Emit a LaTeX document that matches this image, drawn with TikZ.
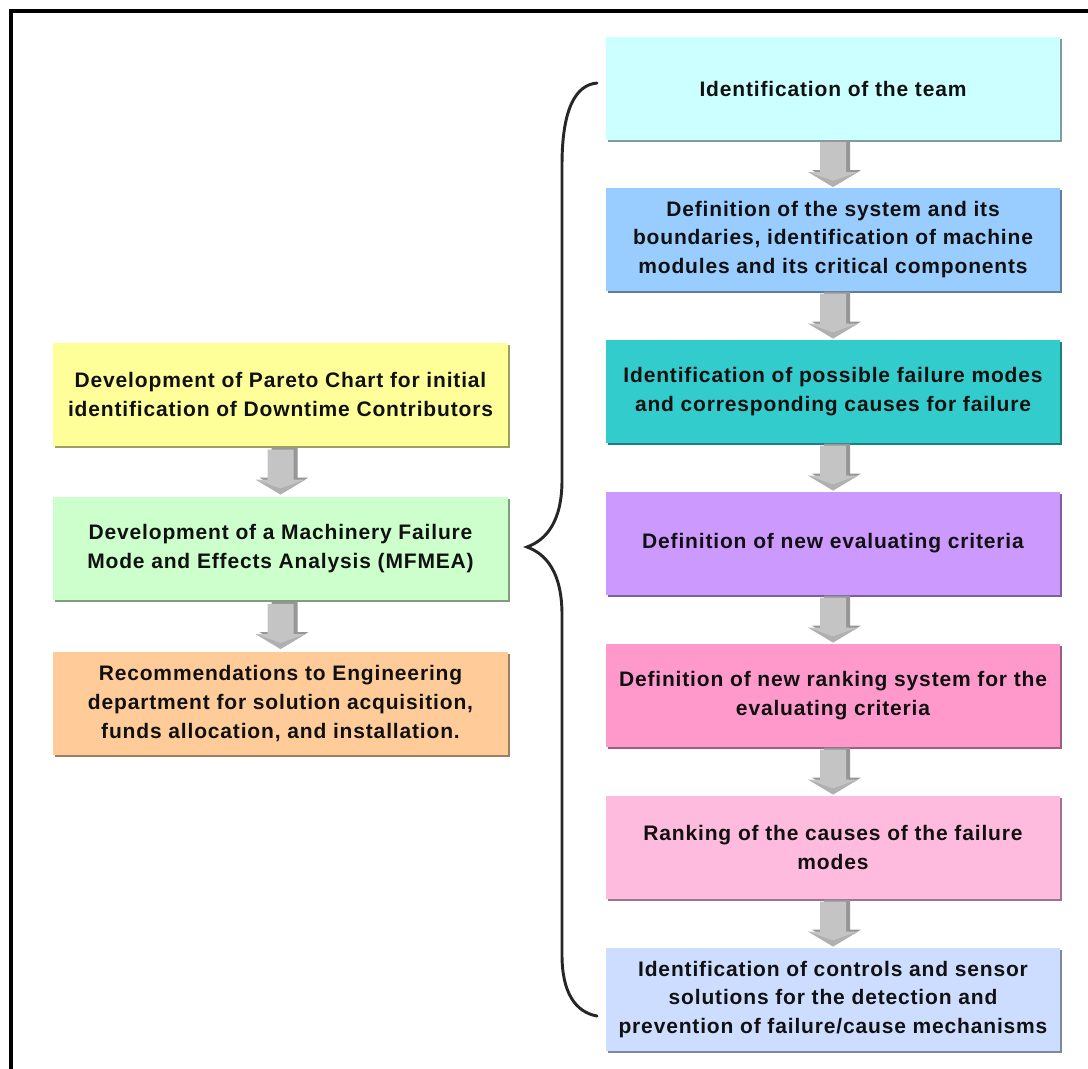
\documentclass[tikz,border=0pt]{standalone}
\usepackage{fontspec}
\setmainfont{Liberation Sans}[LetterSpace=4]
\usetikzlibrary{shadows,calc}

\definecolor{cYellow}{HTML}{FFFF99}
\definecolor{cGreen}{HTML}{CCFFCC}
\definecolor{cOrange}{HTML}{FFCC99}
\definecolor{cCyan}{HTML}{CCFFFF}
\definecolor{cBlue}{HTML}{99CCFF}
\definecolor{cTeal}{HTML}{33CCCC}
\definecolor{cPurple}{HTML}{CC99FF}
\definecolor{cPink}{HTML}{FF99CC}
\definecolor{cRose}{HTML}{FFBBDD}
\definecolor{cLavender}{HTML}{CCDDFF}
\definecolor{arrowFront}{HTML}{C4C4C4}
\definecolor{arrowSide}{HTML}{969696}
\definecolor{inkText}{HTML}{111111}

% one drawing unit = 0.75pt
\tikzset{
  stagebox/.style={
    fill=#1, draw=none, minimum height=77.25pt, inner sep=0pt,
    align=center, text=inkText,
    font=\fontsize{15.75}{21.4}\selectfont\bfseries,
    general shadow={fill=#1!62!black, shadow xshift=1.8pt, shadow yshift=-1.8pt}
  },
  leftbox/.style={stagebox=#1, minimum width=341.25pt},
  rightbox/.style={stagebox=#1, minimum width=340.5pt},
  downarrow/.pic={
    % extruded side of the block arrow
    \fill[arrowSide] (-9,-24) -- (-9,6) -- (-21,6) -- (3,21) -- (28,6) -- (17,6) -- (17,-24) -- cycle;
    % front face
    \fill[arrowFront] (-13,-22) -- (-13,8) -- (-25,8) -- (0,23) -- (25,8) -- (13,8) -- (13,-22) -- cycle;
    % darker underside of the head
    \fill[arrowFront!80!black, opacity=0.5] (-25,8) -- (0,23) -- (25,8) -- (0,17) -- cycle;
  }
}

\begin{document}
\begin{tikzpicture}[x=0.75pt,y=-0.75pt]
\useasboundingbox (0,0) rectangle (1088,1068);
\clip (0,0) rectangle (1088,1068);
\fill[white] (0,0) rectangle (1088,1068);
% outer frame (runs past the page on the right and at the bottom)
\draw[line width=3pt] (10.5,11) rectangle (1120,1100);

% left column
\node[leftbox=cYellow] (pareto) at (280.5,394.5)
  {Development of Pareto Chart for initial\\identification of Downtime Contributors};
\node[leftbox=cGreen] (mfmea) at (280.5,548.5)
  {Development of a Machinery Failure\\Mode and Effects Analysis (MFMEA)};
\node[leftbox=cOrange] (recomm) at (280.5,703.5)
  {Recommendations to Engineering\\department for solution acquisition,\\funds allocation, and installation.};

% right column
\node[rightbox=cCyan] (team) at (833,88.5)
  {Identification of the team};
\node[rightbox=cBlue] (system) at (833,239.5)
  {Definition of the system and its\\boundaries, identification of machine\\modules and its critical components};
\node[rightbox=cTeal] (modes) at (833,391.5)
  {Identification of possible failure modes\\and corresponding causes for failure};
\node[rightbox=cPurple] (criteria) at (833,543.5)
  {Definition of new evaluating criteria};
\node[rightbox=cPink] (ranksys) at (833,695.5)
  {Definition of new ranking system for the\\evaluating criteria};
\node[rightbox=cRose] (ranking) at (833,847.5)
  {Ranking of the causes of the failure\\modes};
\node[rightbox=cLavender] (controls) at (833,999.5)
  {Identification of controls and sensor\\solutions for the detection and\\prevention of failure/cause mechanisms};

% block arrows between consecutive steps
\foreach \a/\b in {pareto/mfmea, mfmea/recomm, team/system, system/modes,
                   modes/criteria, criteria/ranksys, ranksys/ranking, ranking/controls}
  \pic at ($(\a.south)!0.5!(\b.north)$) {downarrow};

% brace grouping the detailed MFMEA steps
\coordinate (braceTop) at (597,83);
\coordinate (braceTip) at (527,547);
\coordinate (braceBot) at (597,1016);
\draw[line width=2.2pt, line cap=round, black!85]
  (braceTop) .. controls (575,85) and (562,110) .. (562,165)
  -- (562,480) .. controls (562,522) and (546,540) .. (braceTip)
  .. controls (546,554) and (562,572) .. (562,615)
  -- (562,955) .. controls (562,992) and (575,1012) .. (braceBot);
\end{tikzpicture}
\end{document}
